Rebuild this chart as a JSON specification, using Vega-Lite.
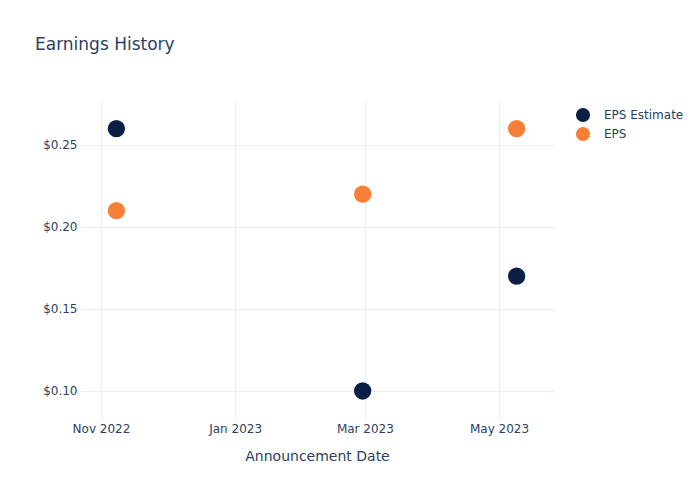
{
  "$schema": "https://vega.github.io/schema/vega-lite/v6.json",
  "width": 474,
  "height": 320,
  "autosize": {"type": "none"},
  "padding": {"left": 80, "top": 100, "right": 146, "bottom": 80},
  "background": "white",
  "config": {
    "view": {"stroke": null},
    "font": "DejaVu Sans"
  },
  "title": {
    "text": "Earnings History",
    "anchor": "start",
    "frame": "group",
    "dx": -45,
    "offset": 46,
    "fontSize": 17,
    "fontWeight": "normal",
    "color": "#2a3f5f",
    "font": "DejaVu Sans"
  },
  "data": {
    "values": [
      {"date": "2022-11-08", "series": "EPS Estimate", "value": 0.26},
      {"date": "2023-02-28", "series": "EPS Estimate", "value": 0.10},
      {"date": "2023-05-09", "series": "EPS Estimate", "value": 0.17},
      {"date": "2022-11-08", "series": "EPS", "value": 0.21},
      {"date": "2023-02-28", "series": "EPS", "value": 0.22},
      {"date": "2023-05-09", "series": "EPS", "value": 0.26}
    ]
  },
  "mark": {"type": "point", "filled": true, "opacity": 1, "size": 300, "shape": "circle"},
  "encoding": {
    "x": {
      "field": "date",
      "type": "temporal",
      "scale": {
        "type": "utc",
        "domain": [
          {"year": 2022, "month": "oct", "date": 22, "hours": 11, "utc": true},
          {"year": 2023, "month": "may", "date": 26, "utc": true}
        ]
      },
      "axis": {
        "title": "Announcement Date",
        "titleFontSize": 14,
        "titleFontWeight": "normal",
        "titleColor": "#2a3f5f",
        "titlePadding": 15,
        "labelFontSize": 12,
        "labelColor": "#2a3f5f",
        "labelPadding": 3,
        "labelExpr": "utcFormat(datum.value, '%b %Y')",
        "values": [
          {"year": 2022, "month": "nov", "date": 1, "utc": true},
          {"year": 2023, "month": "jan", "date": 1, "utc": true},
          {"year": 2023, "month": "mar", "date": 1, "utc": true},
          {"year": 2023, "month": "may", "date": 1, "utc": true}
        ],
        "ticks": false,
        "domain": false,
        "grid": true,
        "gridColor": "#ebf0f8",
        "gridWidth": 1,
        "labelFlush": false
      }
    },
    "y": {
      "field": "value",
      "type": "quantitative",
      "scale": {"domain": [0.0823, 0.2774], "nice": false, "zero": false},
      "axis": {
        "title": null,
        "values": [0.10, 0.15, 0.20, 0.25],
        "format": "$.2f",
        "labelFontSize": 12,
        "labelColor": "#2a3f5f",
        "labelPadding": 3,
        "ticks": false,
        "domain": false,
        "grid": true,
        "gridColor": "#ebf0f8",
        "gridWidth": 1
      }
    },
    "color": {
      "field": "series",
      "type": "nominal",
      "scale": {"domain": ["EPS Estimate", "EPS"], "range": ["#0b1f44", "#f77f38"]},
      "legend": {
        "title": null,
        "orient": "none",
        "legendX": 495,
        "legendY": 7,
        "symbolType": "circle",
        "symbolSize": 200,
        "symbolOpacity": 1,
        "labelFontSize": 12,
        "labelColor": "#2a3f5f",
        "labelOffset": 13,
        "rowPadding": 3
      }
    }
  }
}
